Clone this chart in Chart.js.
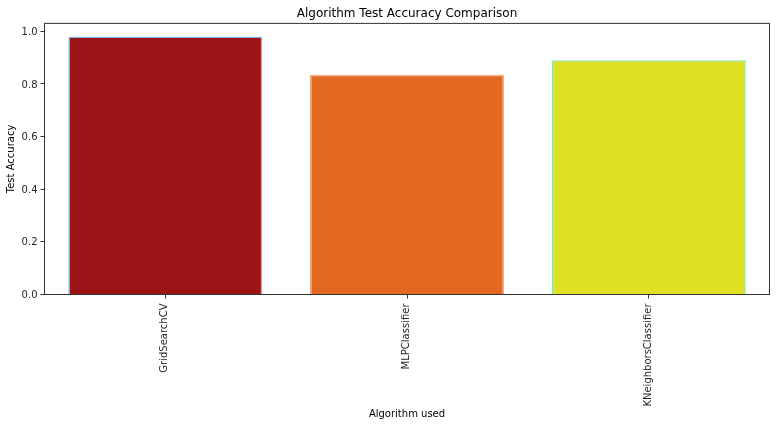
<!DOCTYPE html>
<html>
<head>
<meta charset="utf-8">
<title>Algorithm Test Accuracy Comparison</title>
<script src="https://cdn.jsdelivr.net/npm/chart.js@4"></script>
<style>
    html, body { margin: 0; padding: 0; background: #fff; }
    canvas { display: block; }
</style>
</head>
<body>
<canvas id="accuracy-chart" width="776" height="426"></canvas>
<script>
const algorithms = ['GridSearchCV', 'MLPClassifier', 'KNeighborsClassifier'];
const testAccuracy = [0.98, 0.835, 0.89];
const barColors = ['#9b1516', '#e36821', '#e0e124'];
const edgeColors = ['#85b7ef', '#f5a97c', '#8fe39b'];

const axisColor = '#333333';
const fontFamily = '"DejaVu Sans", sans-serif';

// los cuatro lados del marco
const framePlugin = {
    id: 'frame',
    afterDatasetsDraw(chart) {
        const { ctx, chartArea: a } = chart;
        ctx.save();
        ctx.strokeStyle = axisColor;
        ctx.lineWidth = 1;
        ctx.strokeRect(a.left, a.top, a.right - a.left, a.bottom - a.top);
        ctx.restore();
    }
};

new Chart(document.getElementById('accuracy-chart'), {
    type: 'bar',
    data: {
        labels: algorithms,
        datasets: [{
            data: testAccuracy,
            backgroundColor: barColors,
            borderColor: edgeColors,
            borderWidth: 1.5,
            categoryPercentage: 1,
            barPercentage: 0.803
        }]
    },
    options: {
        responsive: false,
        animation: false,
        layout: { padding: { left: 5, right: 6.5, top: 7, bottom: 6 } },
        plugins: {
            legend: { display: false },
            tooltip: { enabled: false },
            title: {
                display: true,
                fullSize: false,
                text: 'Algorithm Test Accuracy Comparison',
                color: '#000',
                font: { family: fontFamily, size: 12, weight: 'normal' },
                padding: { top: 0, bottom: 2 }
            }
        },
        scales: {
            x: {
                offset: true,
                grid: { offset: false, drawOnChartArea: false, drawTicks: true, tickLength: 4, color: axisColor },
                border: { color: axisColor },
                ticks: {
                    color: '#262626',
                    font: { family: fontFamily, size: 10 },
                    minRotation: 90,
                    maxRotation: 90,
                    padding: 5,
                    labelOffset: -0.5
                },
                title: {
                    display: true,
                    text: 'Algorithm used',
                    color: '#000',
                    font: { family: fontFamily, size: 10 },
                    padding: 0
                },
                afterFit(scale) { scale.height = 125.5; }
            },
            y: {
                min: 0,
                max: 1.03,
                grid: { drawOnChartArea: false, drawTicks: true, tickLength: 4, color: axisColor },
                border: { color: axisColor },
                ticks: {
                    stepSize: 0.2,
                    includeBounds: false,
                    color: '#262626',
                    font: { family: fontFamily, size: 10 },
                    padding: 3,
                    labelOffset: 1,
                    callback: value => value.toFixed(1)
                },
                title: {
                    display: true,
                    text: 'Test Accuracy',
                    color: '#000',
                    font: { family: fontFamily, size: 10 },
                    padding: 0
                },
                afterFit(scale) { scale.width = 39.5; }
            }
        }
    },
    plugins: [framePlugin]
});
</script>
</body>
</html>
